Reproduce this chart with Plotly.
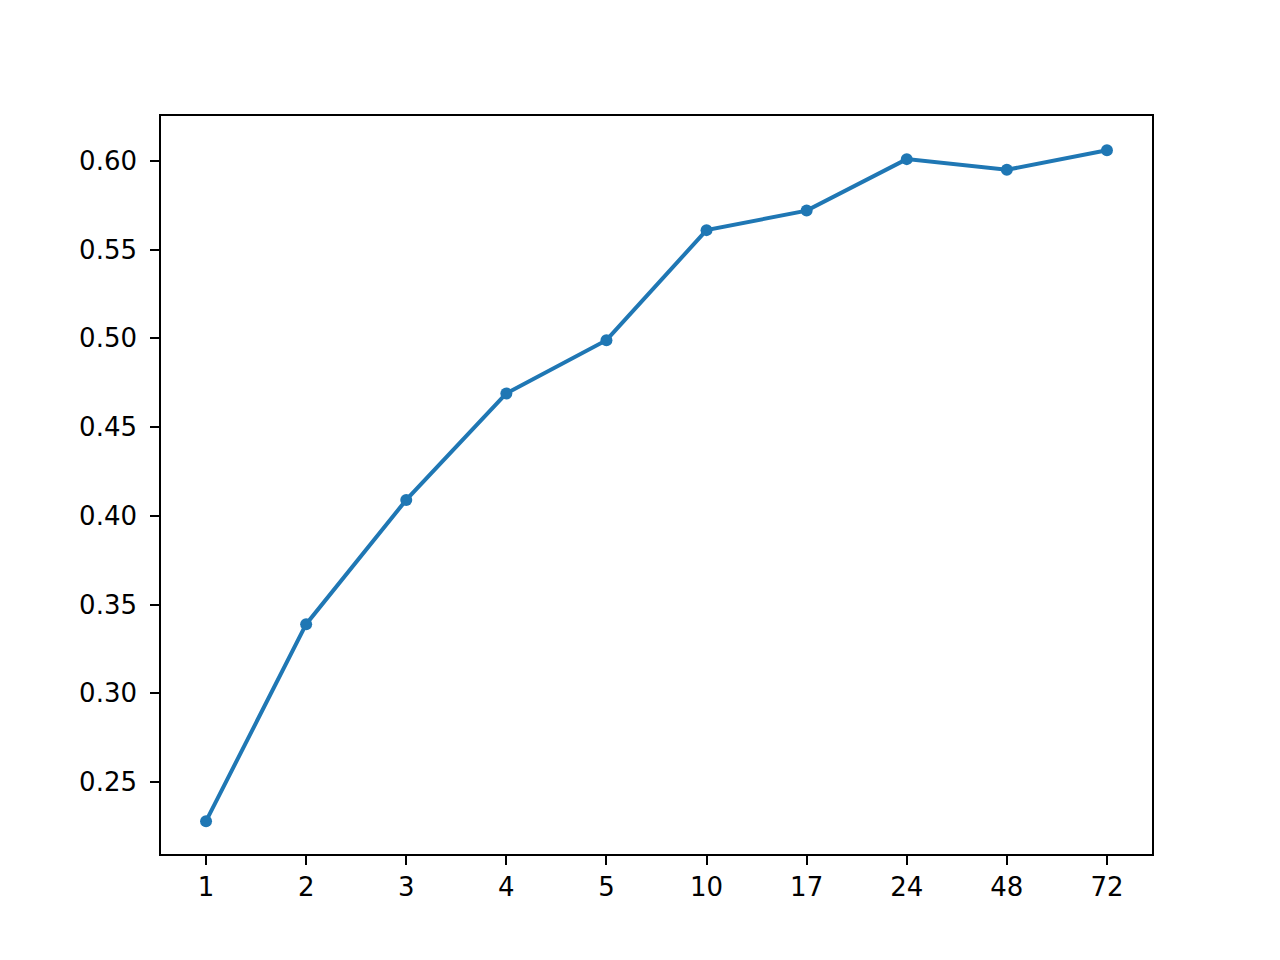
import plotly.graph_objects as go

hours = ["1", "2", "3", "4", "5", "10", "17", "24", "48", "72"]
scores = [0.228, 0.339, 0.409, 0.469, 0.499, 0.561, 0.572, 0.601, 0.595, 0.606]
y_ticks = [0.25, 0.30, 0.35, 0.40, 0.45, 0.50, 0.55, 0.60]

fig = go.Figure()
fig.add_trace(go.Scatter(
    x=hours, y=scores, mode="lines+markers",
    line=dict(color="#1f77b4", width=4),
    marker=dict(color="#1f77b4", size=12),
))

axis_style = dict(
    showline=True, mirror=True, linecolor="black", linewidth=1.6,
    showgrid=False, zeroline=False,
    ticks="outside", ticklen=9, tickwidth=1.6, tickcolor="black",
    tickfont=dict(family="DejaVu Sans", size=26, color="black"),
)

fig.update_xaxes(type="category", range=[-0.45, 9.45],
                 ticklabelstandoff=0, **axis_style)
fig.update_yaxes(range=[0.2095, 0.6253], tickvals=y_ticks,
                 ticktext=[f"{v:.2f}" for v in y_ticks],
                 ticklabelstandoff=8, **axis_style)

fig.update_layout(
    width=1280, height=960,
    margin=dict(l=153, r=136, t=108, b=114),
    plot_bgcolor="white", paper_bgcolor="white",
    showlegend=False,
)

fig.write_html("out.html")
